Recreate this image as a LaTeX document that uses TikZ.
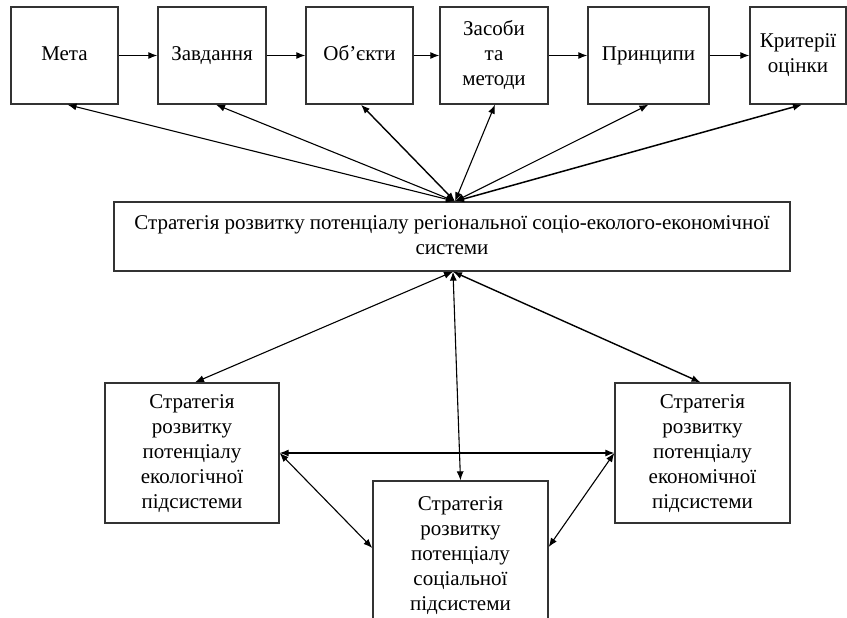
\documentclass[tikz,border=0pt]{standalone}
\usepackage{fontspec}
\setmainfont{Liberation Serif}
\usetikzlibrary{arrows.meta,calc}
\begin{document}
\begin{tikzpicture}[x=1pt,y=-1pt,
  box/.style={draw=black!80, line width=1.3pt, inner sep=0pt, align=center, font=\fontsize{21}{25}\selectfont},
  link/.style={line width=1.2pt, -{Latex[length=9pt,width=7pt]}},
  dlink/.style={line width=1.1pt, {Latex[length=9pt,width=7pt]}-{Latex[length=9pt,width=7pt]}}]
\useasboundingbox (0,0) rectangle (847,618);
% top row
\node[box, minimum width=107pt, minimum height=97pt] (meta) at (64.5,55.5) {\strut Мета};
\node[box, minimum width=108pt, minimum height=97pt] (zavd) at (212,55.5) {\strut Завдання};
\node[box, minimum width=107pt, minimum height=97pt] (obj) at (359.5,55.5) {\strut Об’єкти};
\node[box, minimum width=108pt, minimum height=97pt] (zas) at (494,55.5) {\strut Засоби\\та\\методи\strut};
\node[box, minimum width=121pt, minimum height=97pt] (pryn) at (648.5,55.5) {\strut Принципи};
\node[box, minimum width=96pt, minimum height=97pt] (kryt) at (798,55.5) {\strut Критерії\\оцінки\strut};
% central
\node[box, minimum width=676pt, minimum height=69pt] (central) at (452,236.5)
  {\strut Стратегія розвитку потенціалу регіональної соціо-еколого-економічної\\системи\strut};
% subsystems
\node[box, minimum width=174pt, minimum height=140pt] (eco) at (192,453)
  {\strut Стратегія\\розвитку\\потенціалу\\екологічної\\підсистеми\strut};
\node[box, minimum width=175pt, minimum height=149pt] (soc) at (460.5,555.5)
  {\strut Стратегія\\розвитку\\потенціалу\\соціальної\\підсистеми\strut};
\node[box, minimum width=175pt, minimum height=140pt] (econ) at (702.5,453)
  {\strut Стратегія\\розвитку\\потенціалу\\економічної\\підсистеми\strut};
% hubs
\coordinate (hubT) at ([xshift=3pt]central.north);
\coordinate (hubB) at ([xshift=1pt]central.south);
% top chain
\draw[link] (meta) -- (zavd);
\draw[link] (zavd) -- (obj);
\draw[link] (obj) -- (zas);
\draw[link] (zas) -- (pryn);
\draw[link] (pryn) -- (kryt);
% top to central
\draw[dlink] ([xshift=3pt]meta.south) -- (hubT);
\draw[dlink] ([xshift=4pt]zavd.south) -- (hubT);
\draw[dlink, line width=1.4pt] ([xshift=1.5pt]obj.south) -- (hubT);
\draw[dlink] ([xshift=1pt]zas.south) -- (hubT);
\draw[dlink] (pryn.south) -- (hubT);
\draw[dlink, line width=1.5pt] ([xshift=4pt]kryt.south) -- (hubT);
% central to subsystems
\draw[dlink] (hubB) -- ([xshift=3pt]eco.north);
\draw[dlink] (hubB) -- (soc.north);
\draw[dlink, line width=1.4pt] (hubB) -- ([xshift=-2pt]econ.north);
% between subsystems
\draw[dlink] (eco.east) -- (econ.west);
\draw[dlink] (eco.east) -- ([yshift=7.5pt]soc.west);
\draw[dlink] (econ.west) -- ([yshift=8.5pt]soc.east);
\end{tikzpicture}
\end{document}
